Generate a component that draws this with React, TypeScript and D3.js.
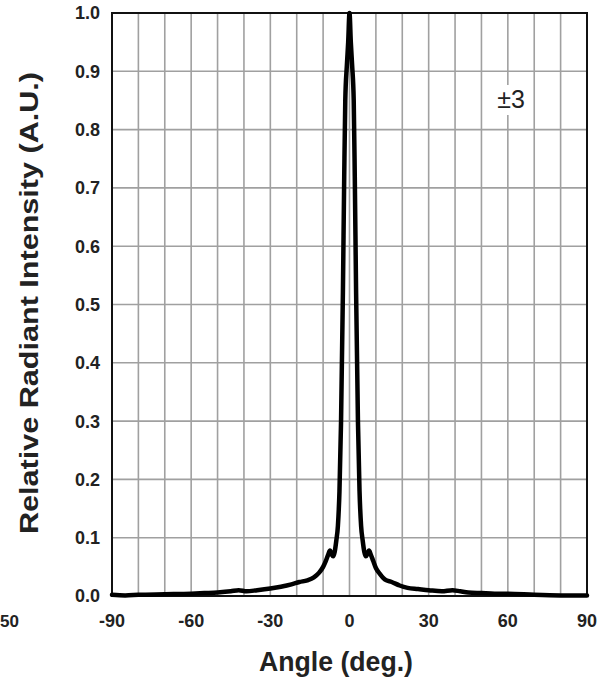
import React from "react";
import * as d3 from "d3";

// Radiation pattern of the ±3° emitter: relative radiant intensity vs. angle
const angles = [
  -90, -85, -80, -70, -60, -55, -50, -45, -42, -39, -35, -30, -26, -22, -19, -16, -13.5, -11.5, -10, -9, -8, -7.4,
  -6.8, -6.2, -5.6, -5, -4.4, -3.8, -3.2, -2.5, -2, -1.6, -1, -0.5, 0,
  0.5, 1, 1.6, 2, 2.5, 3.2, 3.8, 4.4, 5, 5.6, 6.2, 6.8, 7.4, 8, 9, 10, 11.5, 13.5, 16, 19, 22, 26, 30,
  35, 39, 42, 45, 50, 55, 60, 70, 80, 85, 90,
];
const intensity = [
  0.002, 0.001, 0.002, 0.003, 0.004, 0.005, 0.006, 0.008, 0.01, 0.008, 0.01, 0.013, 0.016, 0.02, 0.024, 0.027, 0.032, 0.04, 0.05, 0.06, 0.072, 0.078,
  0.072, 0.068, 0.076, 0.095, 0.12, 0.18, 0.3, 0.52, 0.72, 0.85, 0.91, 0.95, 1.0,
  0.95, 0.91, 0.85, 0.72, 0.52, 0.3, 0.18, 0.12, 0.095, 0.076, 0.068, 0.072, 0.078, 0.072, 0.06, 0.048, 0.038, 0.028, 0.024, 0.018, 0.014, 0.012, 0.01,
  0.008, 0.01, 0.008, 0.006, 0.005, 0.004, 0.004, 0.002, 0.001, 0.001, 0.001,
];

const xTicks = [-90, -60, -30, 0, 30, 60, 90];
const yTicks = [0, 0.1, 0.2, 0.3, 0.4, 0.5, 0.6, 0.7, 0.8, 0.9, 1.0];
const xGrid = d3.range(-90, 91, 10);

const W = 607;
const H = 685;
const left = 112;
const right = 587;
const top = 13;
const bottom = 596;
const FONT = "'Liberation Sans', Arial, sans-serif";

export default function App() {
  const x = d3.scaleLinear().domain([-90, 90]).range([left, right]);
  const y = d3.scaleLinear().domain([0, 1]).range([bottom, top]);
  const pts = angles.map((a, i) => [a, intensity[i]] as [number, number]);
  const line = d3
    .line<[number, number]>()
    .x((d) => x(d[0]))
    .y((d) => y(d[1]))
    .curve(d3.curveMonotoneX);

  return (
    <svg
      width={W}
      height={H}
      style={{ position: "absolute", left: 0, top: 0, background: "#fff" }}
      fontFamily={FONT}
    >
      <rect x={0} y={0} width={W} height={H} fill="#fff" />
      {/* grid */}
      {xGrid.map((g) => (
        <line key={"gx" + g} x1={x(g)} x2={x(g)} y1={top} y2={bottom} stroke="#a0a0a0" strokeWidth={1.6} />
      ))}
      {yTicks.map((t) => (
        <line key={"gy" + t} x1={left} x2={right} y1={y(t)} y2={y(t)} stroke="#a0a0a0" strokeWidth={1.6} />
      ))}
      {/* frame */}
      <rect x={left} y={top} width={right - left} height={bottom - top} fill="none" stroke="#111" strokeWidth={2} />
      {/* curve */}
      <path d={line(pts) ?? ""} fill="none" stroke="#000" strokeWidth={4.5} strokeLinejoin="round" strokeLinecap="round" />
      {/* y tick labels */}
      {yTicks.map((t) => (
        <text
          key={"ty" + t}
          x={100}
          y={y(t)}
          dy="0.36em"
          textAnchor="end"
          fontSize={18}
          fontWeight="bold"
          fill="#222"
        >
          {t.toFixed(1)}
        </text>
      ))}
      {/* x tick labels */}
      {xTicks.map((t) => (
        <text
          key={"tx" + t}
          x={x(t)}
          y={621}
          dy="0.36em"
          textAnchor="middle"
          fontSize={18}
          fontWeight="bold"
          fill="#222"
        >
          {t}
        </text>
      ))}
      <text x={0} y={621} dy="0.36em" textAnchor="start" fontSize={17} fontWeight="bold" fill="#222">
        50
      </text>
      {/* axis titles */}
      <text
        transform={`translate(38,${303}) rotate(-90)`}
        textAnchor="middle"
        fontSize={25}
        fontWeight="bold"
        fill="#222"
        textLength={462}
        lengthAdjust="spacingAndGlyphs"
      >
        Relative Radiant Intensity (A.U.)
      </text>
      <text
        x={336}
        y={671}
        textAnchor="middle"
        fontSize={27}
        fontWeight="bold"
        fill="#222"
        textLength={154}
        lengthAdjust="spacingAndGlyphs"
      >
        Angle (deg.)
      </text>
      {/* annotation */}
      <rect x={493} y={85} width={36} height={30} fill="#fff" />
      <text x={511} y={99} dy="0.36em" textAnchor="middle" fontSize={25} fill="#222">
        ±3
      </text>
    </svg>
  );
}
